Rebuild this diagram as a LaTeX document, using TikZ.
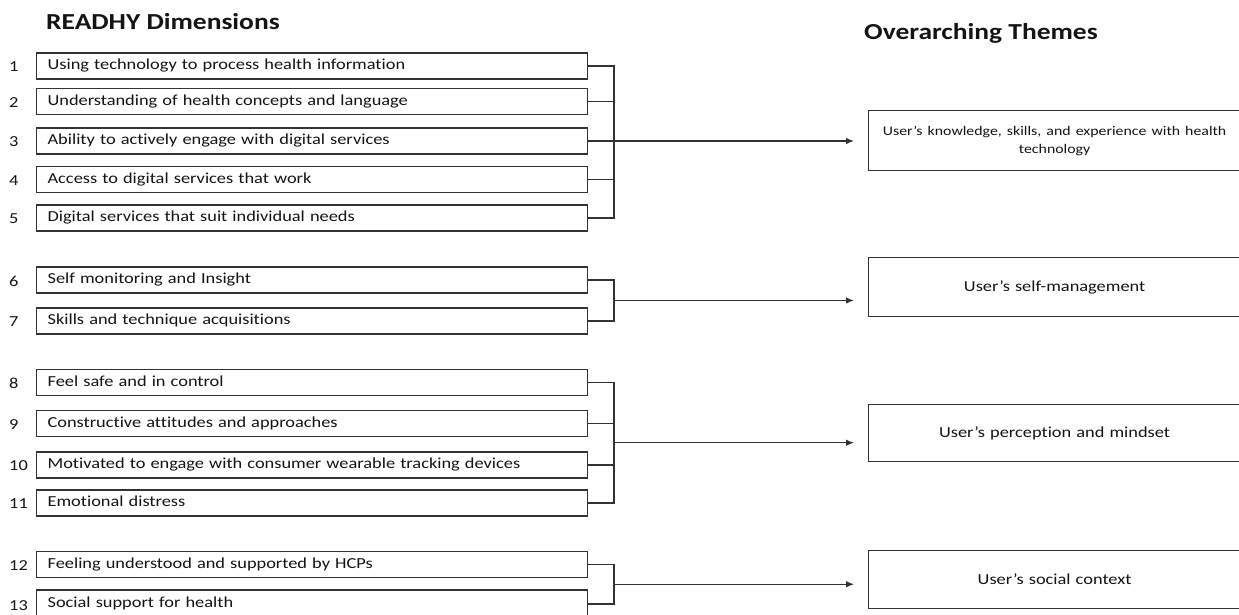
\documentclass[tikz,border=0pt]{standalone}
\usepackage{fontspec}
\setmainfont{Carlito}[FakeStretch=1.2,Ligatures=NoCommon]
\usetikzlibrary{arrows.meta,calc}
\definecolor{txt}{HTML}{141414}
\definecolor{linec}{HTML}{333333}
\begin{document}
\begin{tikzpicture}[x=1pt,y=-1pt,
  line/.style={draw=linec, line width=1.2pt},
  lbox/.style={line, minimum width=551pt, minimum height=26pt, text width=529pt,
    inner xsep=11pt, inner ysep=0pt, align=left, anchor=west, text=txt,
    font=\fontsize{15.3}{18}\selectfont},
  num/.style={anchor=west, inner sep=0pt, text=txt, font=\fontsize{15.3}{18}\selectfont},
  rbox/.style={line, minimum width=372pt, text width=350pt, inner sep=0pt,
    align=center, anchor=north west, text=txt, font=\fontsize{15.3}{18}\selectfont},
  ttl/.style={anchor=west, inner sep=0pt, text=txt, font=\bfseries\fontsize{22.9}{27}\selectfont},
  arr/.style={line, -{Latex[length=8pt,width=6.5pt]}, shorten >=14pt}]
\useasboundingbox (0,0) rectangle (1239,615);

% titles
\node[ttl] (tl) at (46,22) {READHY Dimensions};
\node[ttl] (tr) at (864,33) {Overarching Themes};

% left boxes
\node[lbox] (b1)  at (36,66)    {\strut Using technology to process health information};
\node[lbox] (b2)  at (36,101.5) {\strut Understanding of health concepts and language};
\node[lbox] (b3)  at (36,141)   {\strut Ability to actively engage with digital services};
\node[lbox] (b4)  at (36,179.5) {\strut Access to digital services that work};
\node[lbox] (b5)  at (36,218)   {\strut Digital services that suit individual needs};
\node[lbox] (b6)  at (36,280)   {\strut Self monitoring and Insight};
\node[lbox] (b7)  at (36,321)   {\strut Skills and technique acquisitions};
\node[lbox] (b8)  at (36,382.5) {\strut Feel safe and in control};
\node[lbox] (b9)  at (36,423.5) {\strut Constructive attitudes and approaches};
\node[lbox] (b10) at (36,465)   {\strut Motivated to engage with consumer wearable tracking devices};
\node[lbox] (b11) at (36,503)   {\strut Emotional distress};
\node[lbox] (b12) at (36,564.5) {\strut Feeling understood and supported by HCPs};
\node[lbox, minimum height=28pt] (b13) at (36,604) {\strut Social support for health};

% numbers
\node[num] (n1)  at (9,67)    {1};
\node[num] (n2)  at (9,102.5) {2};
\node[num] (n3)  at (9,142)   {3};
\node[num] (n4)  at (9,180.5) {4};
\node[num] (n5)  at (9,219)   {5};
\node[num] (n6)  at (9,281)   {6};
\node[num] (n7)  at (9,322)   {7};
\node[num] (n8)  at (9,383.5) {8};
\node[num] (n9)  at (9,424.5) {9};
\node[num] (n10) at (9,466)   {10};
\node[num] (n11) at (9,504)   {11};
\node[num] (n12) at (9,566)   {12};
\node[num] (n13) at (9,606)   {13};

% right boxes
\node[rbox, minimum height=60pt] (t1) at (868,110)
  {\fontsize{13.2}{17}\selectfont User’s knowledge, skills, and experience with health\\ technology};
\node[rbox, minimum height=59pt] (t2) at (868,257) {User’s self-management};
\node[rbox, minimum height=57pt] (t3) at (868,404) {User’s perception and mindset};
\node[rbox, minimum height=58pt] (t4) at (868,550) {User’s social context};

% bracket x position
\coordinate (k) at (614,0);

% group 1
\draw[line] (b1.east) -- (b1.east -| k) -- (b5.east -| k) -- (b5.east);
\foreach \b in {b2,b3,b4} \draw[line] (\b.east) -- (\b.east -| k);
\draw[arr] (b3.east -| k) -- (b3.east -| t1.west);

% group 2
\draw[line] (b6.east) -- (b6.east -| k) -- (b7.east -| k) -- (b7.east);
\coordinate (m2) at ($(b6.east -| k)!0.5!(b7.east -| k)$);
\draw[arr] (m2) -- (m2 -| t2.west);

% group 3
\draw[line] (b8.east) -- (b8.east -| k) -- (b11.east -| k) -- (b11.east);
\foreach \b in {b9,b10} \draw[line] (\b.east) -- (\b.east -| k);
\coordinate (m3) at ($(b8.east -| k)!0.5!(b11.east -| k)$);
\draw[arr] (m3) -- (m3 -| t3.west);

% group 4
\draw[line] (b12.east) -- (b12.east -| k) -- (b13.east -| k) -- (b13.east);
\coordinate (m4) at ($(b12.east -| k)!0.5!(b13.east -| k)$);
\draw[arr] (m4) -- (m4 -| t4.west);
\end{tikzpicture}
\end{document}
